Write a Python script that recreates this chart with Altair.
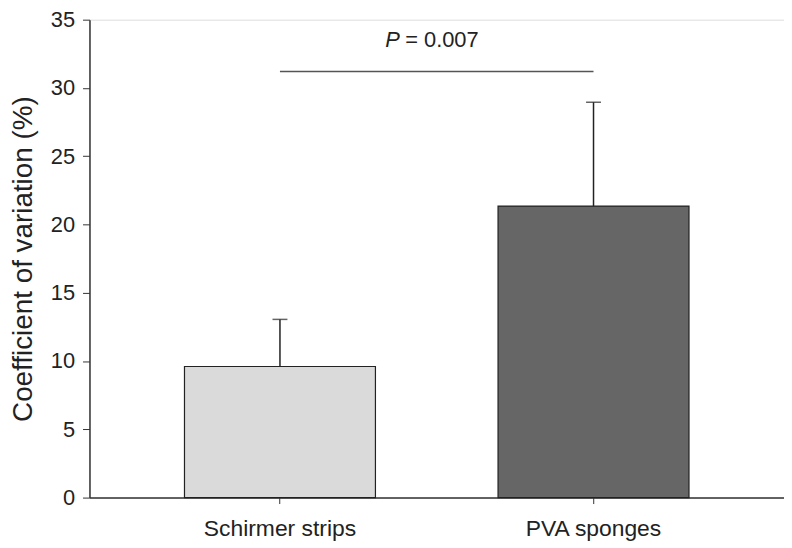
import altair as alt
import pandas as pd

categories = ["Schirmer strips", "PVA sponges"]
means = [9.6, 21.35]
upper = [13.05, 28.95]
colors = ["#dadada", "#666666"]
bracket_y = 31.2
p_label = "= 0.007"

df = pd.DataFrame({"cat": categories, "mean": means, "upper": upper, "color": colors})
br = pd.DataFrame({"a": [categories[0]], "b": [categories[1]], "y": [bracket_y]})

FONT = "Liberation Sans"
xscale = alt.Scale(domain=categories, paddingInner=0.391, paddingOuter=0.303)

x = alt.X("cat:N", title=None, scale=xscale,
          axis=alt.Axis(labelAngle=0, labelFontSize=23, labelFont=FONT, labelColor="#222",
                        tickSize=6, tickColor="#333", domainColor="#333", domainWidth=1.5,
                        labelPadding=14, ticks=True))
y = alt.Y("mean:Q", title="Coefficient of variation (%)",
          scale=alt.Scale(domain=[0, 35], nice=False),
          axis=alt.Axis(values=[0, 5, 10, 15, 20, 25, 30, 35], grid=False,
                        labelFontSize=22, labelFont=FONT, labelColor="#222",
                        titleFontSize=28, titleFont=FONT, titleFontWeight="normal", titleColor="#222",
                        tickSize=7, tickColor="#333", domainColor="#333", domainWidth=1.5,
                        labelPadding=8, titlePadding=13))

bars = alt.Chart(df).mark_bar(stroke="#222", strokeWidth=1.2).encode(
    x=x, y=y, color=alt.Color("color:N", scale=None))

err = alt.Chart(df).mark_rule(color="#222", strokeWidth=1.5).encode(
    x=alt.X("cat:N", scale=xscale), y="mean:Q", y2="upper:Q")
cap = alt.Chart(df).mark_tick(color="#222", thickness=1.5, size=15, orient="horizontal").encode(
    x=alt.X("cat:N", scale=xscale), y="upper:Q")

bracket = alt.Chart(br).mark_rule(color="#555", strokeWidth=1.5).encode(
    x=alt.X("a:N", scale=xscale), x2="b:N", y="y:Q")

ptxt = alt.Chart(br).mark_text(text="P", fontStyle="italic", font=FONT, fontSize=22,
                                align="left", baseline="alphabetic", color="#222", dx=106, dy=-25).encode(
    x=alt.X("a:N", scale=xscale), y="y:Q")
ptxt2 = alt.Chart(br).mark_text(text=p_label, font=FONT, fontSize=22,
                                 align="left", baseline="alphabetic", color="#222", dx=126, dy=-25).encode(
    x=alt.X("a:N", scale=xscale), y="y:Q")

chart = alt.layer(bars, err, cap, bracket, ptxt, ptxt2).properties(
    width=699, height=481,
    autosize=alt.AutoSizeParams(type="none"),
    padding={"left": 82, "top": 10, "right": 0, "bottom": 49},
).configure_view(stroke=None).configure(background="white")

chart.save("out.html", embed_options={"renderer": "svg", "actions": False})
